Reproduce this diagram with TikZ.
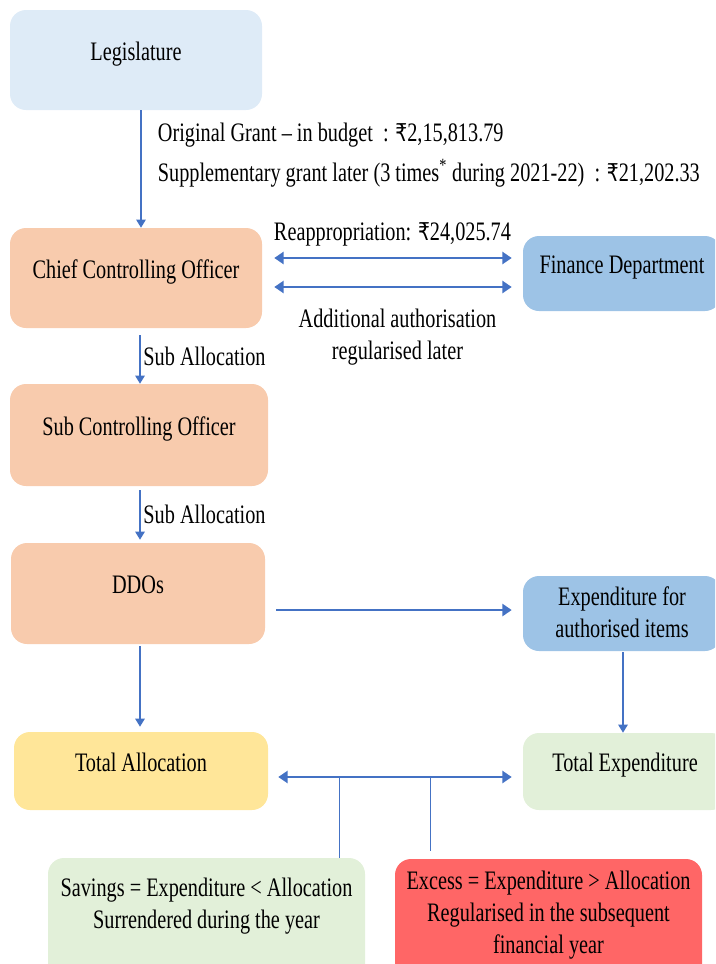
\documentclass[tikz,border=0pt]{standalone}
\usepackage{fontspec}
\setmainfont{Liberation Serif}[FakeStretch=0.76]
\newfontfamily\rupeefont{DejaVu Sans}[FakeStretch=0.76, Scale=0.92]
\newcommand\inr{{\rupeefont ₹}}
\usetikzlibrary{positioning, calc, arrows.meta}

\definecolor{legblue}{HTML}{DEEBF7}
\definecolor{peach}{HTML}{F8CBAD}
\definecolor{midblue}{HTML}{9DC3E6}
\definecolor{sand}{HTML}{FFE699}
\definecolor{sage}{HTML}{E2F0D9}
\definecolor{alarm}{HTML}{FF6666}
\definecolor{linkblue}{HTML}{4472C4}

\begin{document}
\begin{tikzpicture}[x=0.75pt, y=-0.75pt, font=\fontsize{20pt}{24pt}\selectfont,
    box/.style={rectangle, rounded corners=12pt, align=center, minimum width=189pt,
      minimum height=75pt, text height=13pt, text depth=13pt},
    lbl/.style={inner sep=2pt, align=center},
    flow/.style={draw=linkblue, line width=1.1pt, -{Triangle[length=6pt,width=7pt]}},
    wide/.style={draw=linkblue, line width=1.9pt, -{Triangle[length=7pt,width=9pt]}},
    both/.style={draw=linkblue, line width=1.9pt,
      {Triangle[length=7pt,width=9pt]}-{Triangle[length=7pt,width=9pt]}},
    drop/.style={draw=linkblue, line width=0.75pt}]

  \useasboundingbox (0,0) rectangle (715,964);
  \clip (0,0) rectangle (715,964);

  \node[box, fill=legblue] (leg) at (136,60) {Legislature};
  \node[box, fill=peach] (cco) at (136,278) {Chief Controlling Officer};
  \node[box, fill=midblue, minimum width=148.5pt, minimum height=56.25pt] (fin) at (622,273.5) {Finance Department};
  \node[box, fill=peach, minimum width=193.5pt, minimum height=76.5pt] (sco) at (139,435) {Sub Controlling Officer};
  \node[box, fill=peach, minimum width=190.5pt, minimum height=75.75pt] (ddo) at (138,593.5) {DDOs};
  \node[box, fill=midblue, minimum width=148.5pt, minimum height=56.25pt,
    text height=36pt, text depth=0.75pt] (exp) at (622,613.5) {Expenditure for\\authorised items};
  \node[box, fill=sand, minimum width=190.5pt, minimum height=58.5pt] (tal) at (141,771) {Total Allocation};
  \node[box, fill=sage, minimum width=153pt, minimum height=57.75pt] (tex) at (625,771.5) {Total Expenditure};
  \node[box, fill=sage, minimum width=237.75pt, minimum height=97.5pt,
    text height=12pt, text depth=4.5pt] (sav) at (206.5,923) {Savings = Expenditure < Allocation\\Surrendered during the year};
  \node[box, fill=alarm, minimum width=230.25pt, minimum height=97.5pt,
    text height=48pt, text depth=4.5pt] (exc) at (548.5,924) {Excess = Expenditure > Allocation\\Regularised in the subsequent\\financial year};

  \draw[flow] ([xshift=3.75pt]leg.south) -- ([xshift=3.75pt]leg.south |- cco.north);
  \node[lbl, anchor=base west] (orig) at (155,141.7) {Original Grant -- in budget\ \ : \inr2,15,813.79};
  \node[lbl, anchor=base west] (supp) at (155,181.7) {Supplementary grant later (3 times\textsuperscript{*} during 2021-22)\ \ : \inr21,202.33};

  \draw[both, shorten <=9pt, shorten >=8.25pt] ([yshift=15pt]cco.east) -- ([yshift=15pt]cco.east -| fin.west)
    node[lbl, midway, above=6pt] (reap) {Reappropriation: \inr24,025.74};
  \draw[both, shorten <=9pt, shorten >=8.25pt] ([yshift=-6.75pt]cco.east) -- ([yshift=-6.75pt]cco.east -| fin.west)
    node[lbl, midway, below=13.5pt, xshift=3.75pt] (addl) {Additional authorisation\\regularised later};

  \draw[flow, shorten <=5.25pt] ([xshift=3pt]cco.south) -- ([xshift=3pt]cco.south |- sco.north)
    node[lbl, midway, right] (sub1) {Sub Allocation};
  \draw[flow, shorten <=3pt, shorten >=2.25pt] ([xshift=0.75pt]sco.south) -- ([xshift=0.75pt]sco.south |- ddo.north)
    node[lbl, midway, right] (sub2) {Sub Allocation};

  \draw[wide, shorten <=8.25pt, shorten >=8.25pt] ([yshift=-12.4pt]ddo.east) -- ([yshift=-12.4pt]ddo.east -| exp.west);
  \draw[flow, shorten <=1.5pt, shorten >=3.75pt] ([xshift=1.5pt]ddo.south) -- ([xshift=1.5pt]ddo.south |- tal.north);
  \draw[flow, shorten <=0.75pt] ([xshift=0.75pt]exp.south) -- ([xshift=0.75pt]exp.south |- tex.north);

  \draw[both, shorten <=7.5pt, shorten >=8.25pt] ([yshift=-4.5pt]tal.east) -- ([yshift=-4.5pt]tal.east -| tex.west);
  \coordinate (sp1) at (339,777);
  \coordinate (sp2) at (430,777);
  \draw[drop] (sp1) -- (sp1 |- sav.north);
  \draw[drop, shorten >=6pt] (sp2) -- (sp2 |- exc.north);
\end{tikzpicture}
\end{document}
